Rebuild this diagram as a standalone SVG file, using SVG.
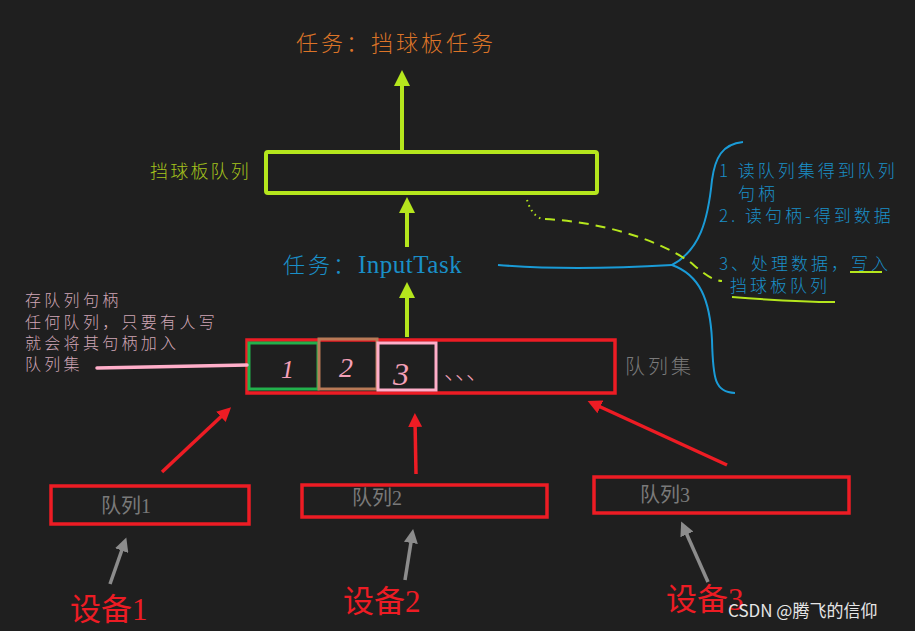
<svg xmlns="http://www.w3.org/2000/svg" width="915" height="631" viewBox="0 0 915 631">
<style>
.cjk{font-family:"Noto Sans CJK SC","Noto Sans",sans-serif;font-weight:300}
.ser{font-family:"Liberation Serif","Noto Sans CJK SC",serif}
.grn{fill:none;stroke:#b5e61d;stroke-width:4}
.red{fill:none;stroke:#ed1c24;stroke-width:3.5}
.blue{fill:none;stroke:#1a9bd7;stroke-width:2}
</style>
<defs>
<marker id="ag" viewBox="0 0 10 10" refX="5" refY="5" markerWidth="4" markerHeight="4" orient="auto"><path d="M0,0 L10,5 L0,10 z" fill="#b5e61d"/></marker>
<marker id="ar" viewBox="0 0 10 10" refX="5" refY="5" markerWidth="4" markerHeight="4" orient="auto"><path d="M0,0 L10,5 L0,10 z" fill="#ed1c24"/></marker>
<marker id="ay" viewBox="0 0 10 10" refX="5" refY="5" markerWidth="4" markerHeight="4" orient="auto"><path d="M0,0 L10,5 L0,10 z" fill="#8c8c8c"/></marker>
</defs>
<rect width="915" height="631" fill="#1f1f1f"/>

<g id="title"><text x="296" y="51" class="cjk" font-size="22" fill="#dc7428" letter-spacing="3">任务：挡球板任务</text></g>

<g id="paddle-queue">
<rect x="266" y="152" width="331" height="41" rx="2" class="grn"/>
<text x="150" y="178" class="cjk" font-size="18" fill="#a6c41c" letter-spacing="2.2">挡球板队列</text>
</g>

<g id="input-task"><text x="283" y="273" font-size="22" fill="#1a8fc8"><tspan class="cjk" letter-spacing="3">任务：</tspan><tspan class="ser" font-size="25" letter-spacing="0.5">InputTask</tspan></text></g>

<g id="queue-set">
<rect x="247" y="340" width="368" height="53" class="red" stroke-width="3"/>
<rect x="249" y="343" width="69" height="46" fill="none" stroke="#22b14c" stroke-width="3"/>
<rect x="319" y="339" width="58" height="50" fill="none" stroke="#b97a57" stroke-width="3"/>
<rect x="378" y="343" width="58" height="47" fill="none" stroke="#ffaec9" stroke-width="3"/>
<text x="281" y="378" class="ser" font-size="26" font-style="italic" fill="#f5a0b8">1</text>
<text x="339" y="377" class="ser" font-size="28" font-style="italic" fill="#f5a0b8">2</text>
<text x="393" y="385" class="ser" font-size="32" font-style="italic" fill="#f5a0b8">3</text>
<text x="444 455 466" y="379" class="cjk" font-size="22" fill="#f5a0b8">、、、</text>
<text x="625" y="374" class="cjk" font-size="20" fill="#7a7a7a" letter-spacing="3">队列集</text>
</g>

<g id="note-left" class="cjk" font-size="16" fill="#d0a6b6" letter-spacing="3.3">
<text x="25" y="306">存队列句柄</text>
<text x="25" y="328">任何队列，只要有人写</text>
<text x="25" y="349">就会将其句柄加入</text>
<text x="25" y="370">队列集</text>
</g>

<g id="steps" class="cjk" font-size="17" fill="#1a8fc8" letter-spacing="3">
<text x="719" y="177">1 读队列集得到队列</text>
<text x="738" y="200">句柄</text>
<text x="719" y="222">2. 读句柄-得到数据</text>
<text x="719" y="270">3、处理数据，写入</text>
<text x="730" y="292">挡球板队列</text>
</g>

<g id="queue1"><rect x="51" y="486" width="198" height="38" class="red"/><text x="101" y="513" class="ser" font-size="20" fill="#7a7a7a">队列1</text></g>
<g id="queue2"><rect x="302" y="485" width="245" height="32" class="red"/><text x="352" y="505" class="ser" font-size="20" fill="#7a7a7a">队列2</text></g>
<g id="queue3"><rect x="594" y="477" width="255" height="36" class="red"/><text x="640" y="502" class="ser" font-size="20" fill="#7a7a7a">队列3</text></g>

<g id="device1"><text x="70" y="620" class="ser" font-size="31" fill="#ed1c24">设备1</text></g>
<g id="device2"><text x="343" y="612" class="ser" font-size="31" fill="#ed1c24">设备2</text></g>
<g id="device3"><text x="666" y="610" class="ser" font-size="31" fill="#ed1c24">设备3</text></g>

<g id="connectors">
<path d="M402,150 L402,78" class="grn" marker-end="url(#ag)"/>
<path d="M407,247 L407,205" class="grn" marker-end="url(#ag)"/>
<path d="M407,337 L407,290" class="grn" marker-end="url(#ag)"/>
<path d="M97,368 L247,365" fill="none" stroke="#ffaec9" stroke-width="3.5" stroke-linecap="round"/>
<path d="M162,472 L226,412" class="red" marker-end="url(#ar)"/>
<path d="M416,474 L415,420" class="red" marker-end="url(#ar)"/>
<path d="M727,465 L594,404" class="red" marker-end="url(#ar)"/>
<path d="M110,584 L124,544" fill="none" stroke="#8c8c8c" stroke-width="3.5" marker-end="url(#ay)"/>
<path d="M405,580 L412,536" fill="none" stroke="#8c8c8c" stroke-width="3.5" marker-end="url(#ay)"/>
<path d="M708,582 L684,528" fill="none" stroke="#8c8c8c" stroke-width="3.5" marker-end="url(#ay)"/>
<path d="M498,265 C560,270 620,268 672,265" class="blue"/>
<path d="M743,142 C722,144 715,158 712,180 C708,220 700,250 672,265 C700,275 710,300 712,340 C713,380 715,392 735,393" class="blue"/>
<path d="M527,200 L530,208 L534,214 L541,219" fill="none" stroke="#b5e61d" stroke-width="2" stroke-dasharray="1.5 4"/>
<path d="M545,219 C600,222 655,238 690,262 C700,270 710,280 722,281" fill="none" stroke="#b5e61d" stroke-width="2" stroke-dasharray="10 7"/>
<path d="M850,272 L882,272" fill="none" stroke="#b5e61d" stroke-width="2"/>
<path d="M732,297 C770,300 800,302 835,302" fill="none" stroke="#b5e61d" stroke-width="2"/>
</g>

<g id="watermark"><text x="728" y="617" font-family="'Noto Sans CJK SC','Noto Sans',sans-serif" font-size="17" fill="#e6e6e6">CSDN @腾飞的信仰</text></g>
</svg>
